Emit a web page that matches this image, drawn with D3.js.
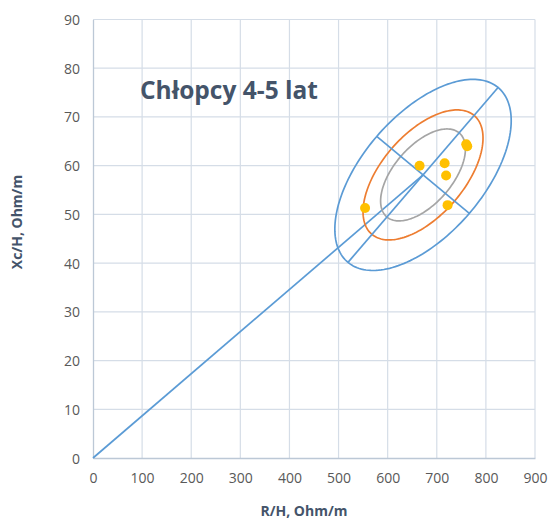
<!DOCTYPE html>
<html>
<head>
<meta charset="utf-8">
<script src="https://cdn.jsdelivr.net/npm/d3@7"></script>
<style>
  html, body { margin: 0; padding: 0; background: #fff; }
  svg { display: block; }
  text { font-family: "Open Sans", "DejaVu Sans", sans-serif; }
</style>
</head>
<body>
<div id="chart"></div>
<script>
// Measured individuals: resistance and reactance normalised by height
const pointR  = [554, 665, 716, 719, 760, 762, 722];
const pointXc = [51.3, 60.0, 60.5, 58.0, 64.4, 64.0, 51.9];

// Reference tolerance ellipses (mean vector and half-axes of the 95% ellipse)
const ellipseCenter = [672, 58.1];
const majorHalfAxis = [152.8, 17.95];
const minorHalfAxis = [94.3, -7.9];
const ellipseLevels = [0.50, 0.75, 0.95];
const ellipseColors = ["#A5A5A5", "#ED7D31", "#5B9BD5"];

// Axis ticks
const xTicks = [0, 100, 200, 300, 400, 500, 600, 700, 800, 900];
const yTicks = [0, 10, 20, 30, 40, 50, 60, 70, 80, 90];

const W = 549, H = 520;
const svg = d3.select("#chart").append("svg").attr("width", W).attr("height", H);

const x = d3.scaleLinear().domain([0, 900]).range([93, 535]);
const y = d3.scaleLinear().domain([0, 90]).range([458, 19.5]);

// Grid
const grid = svg.append("g").attr("stroke", "#D5DDE7").attr("stroke-width", 1.2);
grid.selectAll("line.v").data(xTicks.slice(1)).join("line")
  .attr("x1", d => x(d)).attr("x2", d => x(d))
  .attr("y1", y(0)).attr("y2", y(90));
grid.selectAll("line.h").data(yTicks.slice(1)).join("line")
  .attr("x1", x(0)).attr("x2", x(900))
  .attr("y1", d => y(d)).attr("y2", d => y(d));

// Axes
const xAxis = svg.append("g").attr("transform", `translate(0,${y(0)})`)
  .call(d3.axisBottom(x).tickValues(xTicks).tickSize(0).tickPadding(15));
const yAxis = svg.append("g").attr("transform", `translate(${x(0)},0)`)
  .call(d3.axisLeft(y).tickValues(yTicks).tickSize(0).tickPadding(13));
[xAxis, yAxis].forEach(a => {
  a.select(".domain").attr("stroke", "#BCC8D6").attr("stroke-width", 1.3);
  a.selectAll("text").attr("fill", "#595959").attr("font-size", 14);
});
yAxis.selectAll("text").attr("dy", "0.36em");

// Axis titles
svg.append("text").attr("x", 304).attr("y", 516)
  .attr("text-anchor", "middle").attr("font-size", 14).attr("font-weight", "bold")
  .attr("fill", "#44546A").text("R/H, Ohm/m");
svg.append("text").attr("transform", "translate(22,222) rotate(-90)")
  .attr("text-anchor", "middle").attr("font-size", 14).attr("font-weight", "bold")
  .attr("fill", "#44546A").text("Xc/H, Ohm/m");

// Chart title
svg.append("text").attr("x", 140).attr("y", 99)
  .attr("font-size", 24.5).attr("font-weight", "bold")
  .attr("fill", "#44546A").text("Chłopcy 4-5 lat");

const line = d3.line().x(d => x(d[0])).y(d => y(d[1]));
const [cx, cy] = ellipseCenter;

// Vector from the origin to the mean
svg.append("path").datum([[0, 0], [cx, cy]])
  .attr("d", line).attr("fill", "none")
  .attr("stroke", "#5B9BD5").attr("stroke-width", 1.7);

// Ellipses, scaled by chi-square quantile with 2 degrees of freedom
const k95 = Math.sqrt(-2 * Math.log(1 - 0.95));
const ellipses = ellipseLevels.map((p, i) => {
  const k = Math.sqrt(-2 * Math.log(1 - p)) / k95;
  const pts = d3.range(0, 361, 2).map(a => {
    const t = a * Math.PI / 180;
    return [
      cx + k * (majorHalfAxis[0] * Math.cos(t) + minorHalfAxis[0] * Math.sin(t)),
      cy + k * (majorHalfAxis[1] * Math.cos(t) + minorHalfAxis[1] * Math.sin(t))
    ];
  });
  return { pts, color: ellipseColors[i] };
});
svg.append("g").selectAll("path").data(ellipses).join("path")
  .attr("d", d => line(d.pts) + "Z")
  .attr("fill", "none").attr("stroke", d => d.color).attr("stroke-width", 1.7);

// Major and minor axes of the 95% ellipse
const axesSegs = [
  [[cx - majorHalfAxis[0], cy - majorHalfAxis[1]], [cx + majorHalfAxis[0], cy + majorHalfAxis[1]]],
  [[cx - minorHalfAxis[0], cy - minorHalfAxis[1]], [cx + minorHalfAxis[0], cy + minorHalfAxis[1]]]
];
svg.append("g").selectAll("path").data(axesSegs).join("path")
  .attr("d", line).attr("fill", "none")
  .attr("stroke", "#5B9BD5").attr("stroke-width", 1.7);

// Points
svg.append("g").selectAll("circle").data(pointR.map((r, i) => [r, pointXc[i]])).join("circle")
  .attr("cx", d => x(d[0])).attr("cy", d => y(d[1])).attr("r", 5)
  .attr("fill", "#FFC000");
</script>
</body>
</html>
